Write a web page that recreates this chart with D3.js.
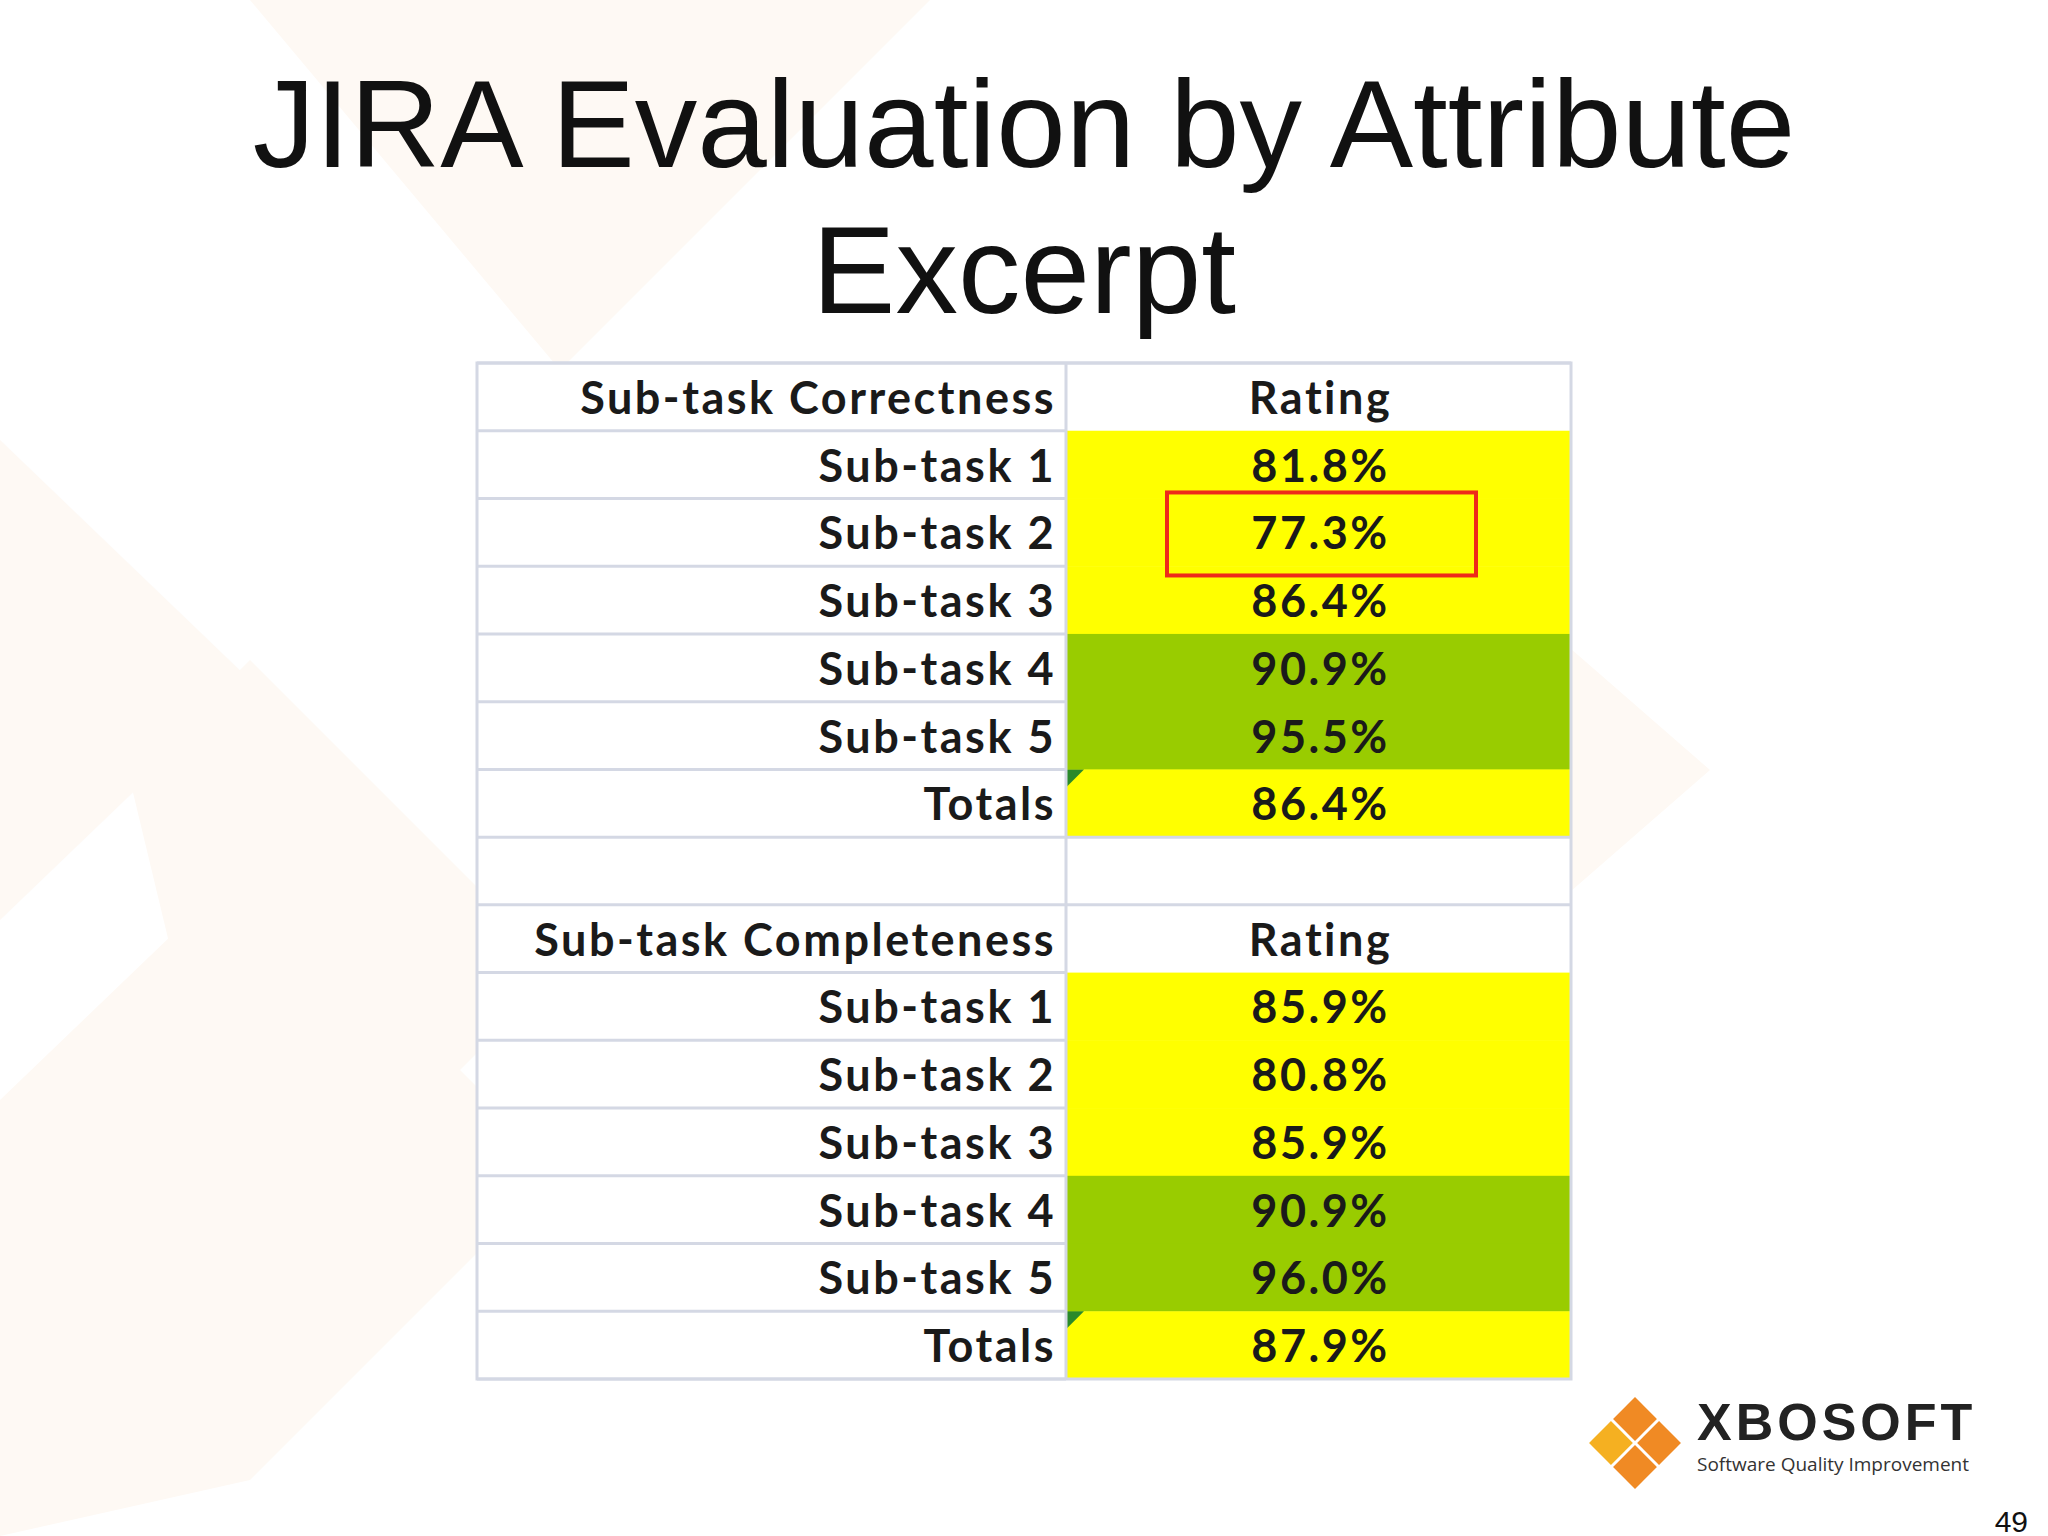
<!DOCTYPE html>
<html><head><meta charset="utf-8">
<script src="https://cdn.jsdelivr.net/npm/d3@7"></script>
<style>body{margin:0;background:#fff}</style>
</head><body>
<script>
var correctnessLabels = ["Sub-task 1","Sub-task 2","Sub-task 3","Sub-task 4","Sub-task 5","Totals"];
var correctnessValues = [81.8, 77.3, 86.4, 90.9, 95.5, 86.4];
var completenessLabels = ["Sub-task 1","Sub-task 2","Sub-task 3","Sub-task 4","Sub-task 5","Totals"];
var completenessValues = [85.9, 80.8, 85.9, 90.9, 96.0, 87.9];

var W = 2048, H = 1536;
var svg = d3.select("body").append("svg").attr("width", W).attr("height", H);

// faint background shapes
var bg = [
  [[0,440],[250,680],[0,920]], [[130,780],[250,660],[560,970],[250,1280]],
  [[0,1100],[250,860],[560,1170],[250,1480],[0,1536]],
  [[250,0],[930,0],[560,370]], [[1400,500],[1710,770],[1400,1040]]
];
svg.selectAll(".bg").data(bg).enter().append("path")
  .attr("d", d => "M" + d.join("L") + "Z").attr("fill", "#fef9f4");

svg.append("text").attr("x", 1024).attr("y", 167).attr("text-anchor", "middle")
  .attr("font-family", "Liberation Sans, Arial").attr("font-size", 125).attr("fill", "#111")
  .text("JIRA Evaluation by Attribute");
svg.append("text").attr("x", 1024).attr("y", 313).attr("text-anchor", "middle")
  .attr("font-family", "Liberation Sans, Arial").attr("font-size", 125).attr("fill", "#111")
  .text("Excerpt");

var rows = [{label:"Sub-task Correctness", value:"Rating", head:true}];
correctnessLabels.forEach((l,i) => rows.push({label:l, value:correctnessValues[i].toFixed(1)+"%", v:correctnessValues[i], total:l==="Totals"}));
rows.push({label:"", value:"", blank:true});
rows.push({label:"Sub-task Completeness", value:"Rating", head:true});
completenessLabels.forEach((l,i) => rows.push({label:l, value:completenessValues[i].toFixed(1)+"%", v:completenessValues[i], total:l==="Totals"}));

var y = d3.scaleBand().domain(d3.range(rows.length)).range([363, 1379]);
var xl = 477, xm = 1066, xr = 1571;
var color = v => v >= 90 ? "#99cc00" : "#ffff00";

var g = svg.append("g");
g.append("rect").attr("x", xl).attr("y", y(0)).attr("width", xr-xl).attr("height", y.step()*rows.length)
  .attr("fill", "#fff");
g.selectAll(".cell").data(rows.filter(r => r.v != null)).enter().append("rect")
  .attr("x", xm).attr("y", r => y(rows.indexOf(r))).attr("width", xr-xm).attr("height", y.bandwidth()+0.5)
  .attr("fill", r => color(r.v));
rows.forEach((r,i) => {
  g.append("line").attr("x1", xl).attr("x2", r.v != null ? xm : xr).attr("y1", y(i)).attr("y2", y(i))
    .attr("stroke", "#d4d8e4").attr("stroke-width", 3);
  if (r.total) g.append("path").attr("d", `M${xm},${y(i)}L${xm+18},${y(i)}L${xm},${y(i)+18}Z`).attr("fill", "#2a8a2a");
});
g.append("line").attr("x1", xl).attr("x2", xm).attr("y1", 1379).attr("y2", 1379).attr("stroke", "#d4d8e4").attr("stroke-width", 3);
g.append("rect").attr("x", xl).attr("y", 363).attr("width", xr-xl).attr("height", 1016)
  .attr("fill", "none").attr("stroke", "#d4d8e4").attr("stroke-width", 3);
g.append("line").attr("x1", xm).attr("x2", xm).attr("y1", 363).attr("y2", 1379).attr("stroke", "#d4d8e4").attr("stroke-width", 3);

var font = "Lato, Open Sans, sans-serif";
g.selectAll(".lab").data(rows).enter().append("text")
  .attr("x", xm - 10).attr("y", (r,i) => y(i) + y.bandwidth()/2 + 17).attr("text-anchor", "end")
  .attr("font-family", font).attr("font-weight", 700).attr("font-size", 45).attr("letter-spacing", 2.5).attr("fill", "#1a1a1a")
  .text(r => r.label);
g.selectAll(".val").data(rows).enter().append("text")
  .attr("x", (xm+xr)/2 + 2).attr("y", (r,i) => y(i) + y.bandwidth()/2 + 17).attr("text-anchor", "middle")
  .attr("font-family", font).attr("font-weight", 700).attr("font-size", 45).attr("letter-spacing", 2.5).attr("fill", "#1a1a1a")
  .text(r => r.value);

// highlight box on correctness sub-task 2
g.append("rect").attr("x", 1167).attr("y", y(2)-6).attr("width", 309).attr("height", 83)
  .attr("fill", "none").attr("stroke", "#ee2a1a").attr("stroke-width", 4);

// logo
var cx = 1635, cy = 1443, s = 17;
var diam = [[0,-1,"#f08a24"],[1,0,"#f08a24"],[0,1,"#f08a24"],[-1,0,"#f5b021"]];
svg.selectAll(".dm").data(diam).enter().append("rect")
  .attr("x", -s+1.5).attr("y", -s+1.5).attr("width", 2*s-3).attr("height", 2*s-3).attr("fill", d => d[2])
  .attr("transform", d => `translate(${cx + d[0]*s*1.414},${cy + d[1]*s*1.414}) rotate(45)`);
svg.append("text").attr("x", 1697).attr("y", 1440).attr("font-family", "Liberation Sans, Arial")
  .attr("font-weight", 700).attr("font-size", 52).attr("letter-spacing", 4).attr("fill", "#222").text("XBOSOFT");
svg.append("text").attr("x", 1697).attr("y", 1471).attr("font-family", "Open Sans, sans-serif")
  .attr("font-size", 19).attr("fill", "#333").text("Software Quality Improvement");
svg.append("text").attr("x", 2028).attr("y", 1532).attr("text-anchor", "end").attr("font-family", "Liberation Sans, Arial")
  .attr("font-size", 30).attr("fill", "#111").text("49");
</script>
</body></html>
